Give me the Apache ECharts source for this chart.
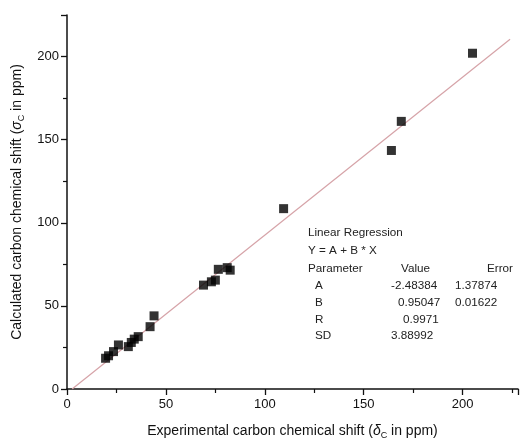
<!DOCTYPE html>
<html><head><meta charset="utf-8">
<script src="https://cdn.jsdelivr.net/npm/echarts@6/dist/echarts.min.js"></script>
<style>html,body{margin:0;padding:0;background:#fff}#c{width:521px;height:445px}</style>
</head><body><div id="c"></div>
<script>
// Experimental (x) vs calculated (y) carbon chemical shifts, ppm
const expShift  = [19.5, 21, 23.5, 26, 31, 32.5, 34, 36, 42, 44, 69, 73, 75, 76.5, 81, 82.5, 109.5, 164, 169, 205];
const calcShift = [18.5, 20, 22.5, 26.5, 25.5, 28, 30, 31.5, 37.5, 44, 62.5, 64.5, 65.5, 72, 73, 71.5, 108.5, 143.5, 161, 202];
// Linear regression Y = A + B*X, drawn over this x span
const fitA = -2.48384, fitB = 0.95047;
const fitXRange = [2.6, 224];
// Table texts
const tableRows = [
  ['A', '-2.48384', '1.37874'],
  ['B', '0.95047', '0.01622'],
  ['R', '0.9971', ''],
  ['SD', '3.88992', '']
];
const xTicks = [0, 50, 100, 150, 200];
const yTicks = [0, 50, 100, 150, 200];

const chart = echarts.init(document.getElementById('c'));
const font = 'Liberation Sans, Arial, sans-serif';
const ink = '#111';
const axisCommon = {
  type: 'value', min: 0, interval: 50,
  axisLine: {show: true, onZero: false, lineStyle: {color: ink, width: 1.5}},
  axisTick: {show: true, inside: false, length: 6, lineStyle: {color: ink, width: 1.3}},
  minorTick: {show: true, splitNumber: 2, length: 4, lineStyle: {color: ink, width: 1.2}},
  splitLine: {show: false},
  axisLabel: {color: ink, fontFamily: font, fontSize: 13, showMaxLabel: false},
  nameLocation: 'middle',
  nameTextStyle: {color: ink, fontFamily: font, fontSize: 14}
};
const richName = {
  n: {fontFamily: font, fontSize: 14, color: ink},
  i: {fontFamily: font, fontSize: 14, color: ink, fontStyle: 'italic'},
  s: {fontFamily: font, fontSize: 9, color: ink, padding: [8, 0, 0, 0]}
};

const fitLine = fitXRange.map(x => [x, fitA + fitB * x]);

const valueLeft = [391, 398, 403, 391];
const graphics = [];
function txt(x, y, s) {
  graphics.push({type: 'text', left: x, top: y - 7, style: {text: s, fontFamily: font, fontSize: 11.7, fill: '#222'}});
}
txt(308, 234, 'Linear Regression');
txt(308, 252, 'Y = A + B * X');
txt(308, 270, 'Parameter');
txt(401, 270, 'Value');
txt(487, 270, 'Error');
tableRows.forEach((r, k) => {
  const y = 287 + k * 16.7;
  txt(315, y, r[0]);
  txt(valueLeft[k], y, r[1]);
  if (r[2]) txt(455, y, r[2]);
});

chart.setOption({
  animation: false,
  backgroundColor: '#fff',
  grid: {left: 67, right: 3, top: 15, bottom: 56},
  xAxis: Object.assign({}, axisCommon, {
    max: 228,
    name: '{n|Experimental carbon chemical shift (}{i|δ}{s|C}{n| in ppm)}',
    nameGap: 34,
    nameTextStyle: Object.assign({}, axisCommon.nameTextStyle, {rich: richName}),
    axisLabel: Object.assign({}, axisCommon.axisLabel, {margin: 9})
  }),
  yAxis: Object.assign({}, axisCommon, {
    max: 225,
    name: '{n|Calculated carbon chemical shift (}{i|σ}{s|C}{n| in ppm)}',
    nameGap: 41,
    nameRotate: 90,
    nameTextStyle: Object.assign({}, axisCommon.nameTextStyle, {rich: richName}),
    axisLabel: Object.assign({}, axisCommon.axisLabel, {margin: 8})
  }),
  series: [
    {type: 'line', data: fitLine, symbol: 'none', lineStyle: {color: '#d6a3a8', width: 1.2}, z: 1},
    {type: 'scatter', data: expShift.map((x, i) => [x, calcShift[i]]), symbol: 'rect', symbolSize: 9,
     itemStyle: {color: '#000'}, z: 2}
  ],
  graphic: graphics
});
</script></body></html>
